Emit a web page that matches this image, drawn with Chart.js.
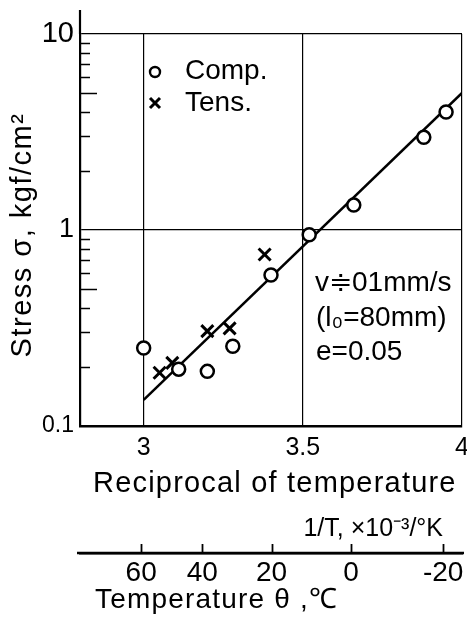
<!DOCTYPE html>
<html><head><meta charset="utf-8">
<script src="https://cdn.jsdelivr.net/npm/chart.js@4/dist/chart.umd.min.js"></script>
<style>html,body{margin:0;padding:0;background:#fff;overflow:hidden}canvas{display:block}</style>
</head><body>
<canvas id="c" width="467" height="621"></canvas>
<script>
// Compression data (open circles)
const compX = [3.00, 3.11, 3.20, 3.28, 3.40, 3.52, 3.66, 3.88, 3.95];
const compY = [0.25, 0.195, 0.19, 0.255, 0.59, 0.945, 1.34, 2.97, 4.0];
// Tension data (crosses)
const tensX = [3.05, 3.09, 3.20, 3.27, 3.38];
const tensY = [0.187, 0.21, 0.305, 0.315, 0.75];
// Fitted line
const fitX = [3.0, 4.0];
const fitY = [0.136, 5.0];
// Axis ticks
const xTicks = [3, 3.5, 4];
const xTickLabels = ['3', '3.5', '4'];
const yTicks = [0.1, 1, 10];
const yTickLabels = ['0.1', '1', '10'];
const tempTicks = [60, 40, 20, 0, -20];
const tempTickLabels = ['60', '40', '20', '0', '-20'];

const FONT = "'Liberation Sans', Arial, sans-serif";

const deco = {
  id: 'deco',
  afterDraw(chart) {
    const {ctx, chartArea: a, scales: {y, x2}} = chart;
    ctx.save();
    ctx.strokeStyle = '#000'; ctx.fillStyle = '#000';
    // left axis extension above plot
    ctx.lineWidth = 2.2;
    ctx.beginPath(); ctx.moveTo(a.left, 10); ctx.lineTo(a.left, a.top); ctx.stroke();
    // minor ticks inside
    ctx.lineWidth = 1.5;
    for (const dec of [0.1, 1]) {
      for (let k = 2; k <= 9; k++) {
        const py = Math.round(y.getPixelForValue(dec * k)) + 0.5;
        const len = k === 5 ? 17 : 10;
        ctx.beginPath(); ctx.moveTo(a.left, py); ctx.lineTo(a.left + len, py); ctx.stroke();
      }
    }
    // temperature axis: extend line slightly, ticks pointing up
    ctx.lineWidth = 2.5;
    ctx.beginPath(); ctx.moveTo(77, x2.top); ctx.lineTo(464, x2.top); ctx.stroke();
    ctx.lineWidth = 1.8;
    for (const t of x2.ticks) {
      const px = Math.round(x2.getPixelForValue(t.value)) - 2.5;
      ctx.beginPath(); ctx.moveTo(px, x2.top); ctx.lineTo(px, x2.top - 9); ctx.stroke();
    }
    // legend
    ctx.lineWidth = 2.4;
    ctx.beginPath(); ctx.arc(155, 72, 5, 0, Math.PI * 2); ctx.stroke();
    ctx.lineWidth = 3;
    ctx.beginPath(); ctx.moveTo(150, 98); ctx.lineTo(160, 108); ctx.moveTo(160, 98); ctx.lineTo(150, 108); ctx.stroke();
    ctx.textBaseline = 'middle'; ctx.textAlign = 'left';
    ctx.font = '28px ' + FONT;
    ctx.fillText('Comp.', 185, 71);
    ctx.fillText('Tens.', 185, 103);
    // conditions
    ctx.fillText('v\u225101mm/s', 315, 283);
    ctx.fillText('(l\u2080=80mm)', 316, 318);
    ctx.fillText('e=0.05', 316, 352);
    // axis titles
    ctx.letterSpacing = '1.2px';
    ctx.font = '29px ' + FONT;
    ctx.fillText('Reciprocal of temperature', 93, 484);
    ctx.font = '28px ' + FONT;
    ctx.fillText('Temperature \u03b8 ,\u2103', 95, 600);
    ctx.letterSpacing = '0px';
    ctx.font = '25px ' + FONT;
    ctx.textAlign = 'right';
    ctx.fillText('1/T, \u00d710\u207b\u00b3/\u00b0K', 443, 529);
    // y title
    ctx.save();
    ctx.translate(23, 235);
    ctx.rotate(-Math.PI / 2);
    ctx.textAlign = 'center';
    ctx.letterSpacing = '1.5px';
    ctx.font = '29px ' + FONT;
    ctx.fillText('Stress \u03c3, kgf/cm\u00b2', 0, 0);
    ctx.restore();
    ctx.restore();
  }
};

new Chart(document.getElementById('c'), {
  type: 'scatter',
  data: {
    datasets: [
      {label: 'Comp.', data: compX.map((x, i) => ({x, y: compY[i]})), pointStyle: 'circle', pointRadius: 6.5,
       borderColor: '#000', backgroundColor: '#fff', borderWidth: 2.5, showLine: false},
      {label: 'Tens.', data: tensX.map((x, i) => ({x, y: tensY[i]})), pointStyle: 'crossRot', pointRadius: 8.5,
       borderColor: '#000', backgroundColor: '#000', borderWidth: 3, showLine: false},
      {label: 'fit', data: fitX.map((x, i) => ({x, y: fitY[i]})), showLine: true, borderColor: '#000',
       borderWidth: 2.5, pointRadius: 0, fill: false}
    ]
  },
  options: {
    responsive: false, animation: false, devicePixelRatio: 1,
    layout: {autoPadding: false, padding: {top: 34, right: 5, left: 0, bottom: 0}},
    plugins: {legend: {display: false}, tooltip: {enabled: false}},
    scales: {
      x: {
        type: 'linear', position: 'bottom', min: 2.8, max: 4.0,
        afterBuildTicks: s => { s.ticks = xTicks.map(v => ({value: v})); },
        afterFit: s => { s.height = 127; s.paddingLeft = 0; s.paddingRight = 0; },
        ticks: {callback: (v, i) => xTickLabels[i], font: {family: FONT, size: 25}, color: '#000', padding: 7, maxRotation: 0, autoSkip: false},
        grid: {color: '#000', lineWidth: 1.2, drawTicks: false},
        border: {display: true, color: '#000', width: 2.5}
      },
      x2: {
        type: 'linear', position: 'bottom', min: 2.8, max: 4.0,
        afterBuildTicks: s => { s.ticks = tempTicks.map(t => ({value: 1000 / (t + 273.15)})); },
        afterFit: s => { s.height = 68; s.paddingLeft = 0; s.paddingRight = 0; },
        ticks: {callback: (v, i) => tempTickLabels[i], font: {family: FONT, size: 28}, color: '#000', padding: 3, maxRotation: 0, autoSkip: false, labelOffset: -3},
        grid: {display: true, drawOnChartArea: false, drawTicks: false},
        border: {display: true, color: '#000', width: 2.5}
      },
      y: {
        type: 'logarithmic', position: 'left', min: 0.1, max: 10,
        afterBuildTicks: s => { s.ticks = yTicks.map(v => ({value: v})); },
        afterFit: s => { s.width = 80; s.paddingTop = 0; s.paddingBottom = 0; },
        ticks: {
          callback: (v, i) => yTickLabels[i], color: '#000', padding: 6, autoSkip: false,
          font: c => ({family: FONT, size: c.tick && c.tick.value === 10 ? 29 : (c.tick && c.tick.value === 1 ? 27 : 23)})
        },
        grid: {color: c => (c.tick && c.tick.value === 0.1) ? 'rgba(0,0,0,0)' : '#000', lineWidth: 1.2, drawTicks: false},
        border: {display: true, color: '#000', width: 2.2}
      }
    }
  },
  plugins: [deco]
});
</script>
</body></html>
